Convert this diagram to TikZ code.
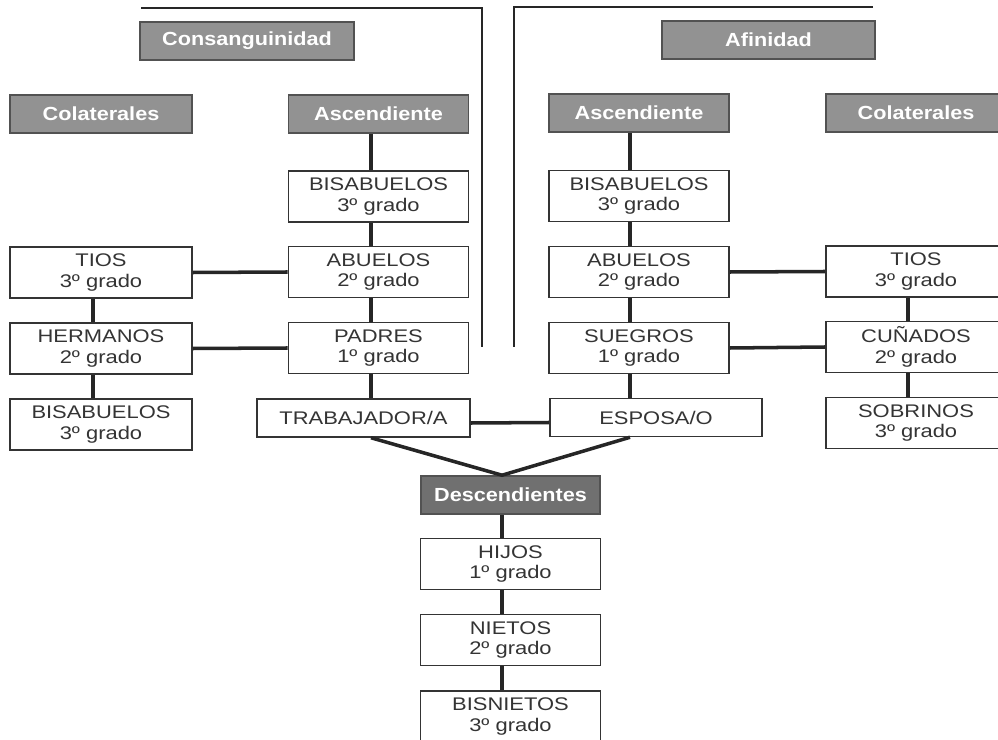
\documentclass[tikz,border=0pt]{standalone}
\usepackage{fontspec}
\newfontfamily\boxfont[FakeStretch=1.2]{Liberation Sans}
\newfontfamily\hdrfont[FakeStretch=1.14]{Liberation Sans}

\definecolor{hdrgray}{RGB}{146,146,146}
\definecolor{descgray}{RGB}{112,112,112}
\definecolor{inkgray}{RGB}{52,52,52}

\tikzset{
  kin/.style={draw=inkgray, line width=1.1pt, fill=white, text=inkgray,
    align=center, inner sep=0pt, minimum width=4.5cm, minimum height=1.27cm,
    font=\boxfont\fontsize{13}{14.6}\selectfont},
  single/.style={kin, minimum height=0.95cm},
  hdr/.style={draw=inkgray!85, line width=1.1pt, fill=hdrgray, text=white,
    inner sep=0pt, minimum width=4.5cm, minimum height=0.95cm,
    font=\hdrfont\bfseries\fontsize{13.5}{15}\selectfont},
  link/.style={draw=black!85, line width=2.5pt},
  bracket/.style={draw=black!85, line width=2pt}
}

\begin{document}
\begin{tikzpicture}[x=0.025cm, y=-0.025cm]
\useasboundingbox (0,0) rectangle (998,740);

% Brackets on top.
\draw[bracket] (141,8) -- (482,8) -- (482,347);
\draw[bracket] (873,7) -- (514,7) -- (514,347);

% Headers.
\node[hdr, minimum width=5.35cm] (consang) at (247,41) {Consanguinidad};
\node[hdr, minimum width=5.33cm] (afin) at (768.5,40) {Afinidad};
\node[hdr, minimum width=4.55cm] (colIzq) at (101,114) {Colaterales};
\node[hdr] (ascIzq) at (378.5,114) {Ascendiente};
\node[hdr] (ascDer) at (639,113) {Ascendiente};
\node[hdr] (colDer) at (916,113) {Colaterales};
\node[hdr, fill=descgray, minimum width=4.48cm] (desc) at (510.5,495) {Descendientes};

% Consanguinidad.
\node[kin] (bisIzq) at (378.5,196.5) {BISABUELOS\\3º grado};
\node[kin] (abuIzq) at (378.5,272) {ABUELOS\\2º grado};
\node[kin] (padres) at (378.5,348) {PADRES\\1º grado};
\node[single, minimum width=5.32cm] (trab) at (363.5,418) {TRABAJADOR/A};
\node[kin, minimum width=4.55cm] (tiosIzq) at (101,272.5) {TIOS\\3º grado};
\node[kin, minimum width=4.55cm] (herm) at (101,348.5) {HERMANOS\\2º grado};
\node[kin, minimum width=4.55cm] (bisCol) at (101,424.5) {BISABUELOS\\3º grado};

% Afinidad.
\node[kin] (bisDer) at (639,196) {BISABUELOS\\3º grado};
\node[kin] (abuDer) at (639,272) {ABUELOS\\2º grado};
\node[kin] (suegros) at (639,348) {SUEGROS\\1º grado};
\node[single, minimum width=5.3cm] (esposa) at (656,417.5) {ESPOSA/O};
\node[kin] (tiosDer) at (916,271.5) {TIOS\\3º grado};
\node[kin] (cunados) at (916,347) {CUÑADOS\\2º grado};
\node[kin] (sobrinos) at (916,423) {SOBRINOS\\3º grado};

% Descendientes.
\node[kin] (hijos) at (510.5,564) {HIJOS\\1º grado};
\node[kin] (nietos) at (510.5,640) {NIETOS\\2º grado};
\node[kin] (bisnietos) at (510.5,716.5) {BISNIETOS\\3º grado};

% Trunk lines.
\coordinate (tL) at (93,0);
\coordinate (tA) at (371,0);
\coordinate (tD) at (502,0);
\coordinate (tB) at (630,0);
\coordinate (tR) at (908,0);

\foreach \a/\b in {ascIzq/bisIzq, bisIzq/abuIzq, abuIzq/padres, padres/trab}
  \draw[link] (tA |- \a.south) -- (tA |- \b.north);
\foreach \a/\b in {ascDer/bisDer, bisDer/abuDer, abuDer/suegros, suegros/esposa}
  \draw[link] (tB |- \a.south) -- (tB |- \b.north);
\foreach \a/\b in {tiosIzq/herm, herm/bisCol}
  \draw[link] (tL |- \a.south) -- (tL |- \b.north);
\foreach \a/\b in {tiosDer/cunados, cunados/sobrinos}
  \draw[link] (tR |- \a.south) -- (tR |- \b.north);
\foreach \a/\b in {desc/hijos, hijos/nietos, nietos/bisnietos}
  \draw[link] (tD |- \a.south) -- (tD |- \b.north);

% Cross links.
\draw[link] (tiosIzq.east) -- (abuIzq.west);
\draw[link] (herm.east) -- (padres.west);
\draw[link] (abuDer.east) -- (tiosDer.west);
\draw[link] (suegros.east) -- (cunados.west);
\draw[link] ([yshift=-1.25mm]trab.east) -- ([yshift=-1.25mm]esposa.west);
\draw[link] (tA |- trab.south) -- (tD |- desc.north) -- (tB |- esposa.south);

\end{tikzpicture}
\end{document}
